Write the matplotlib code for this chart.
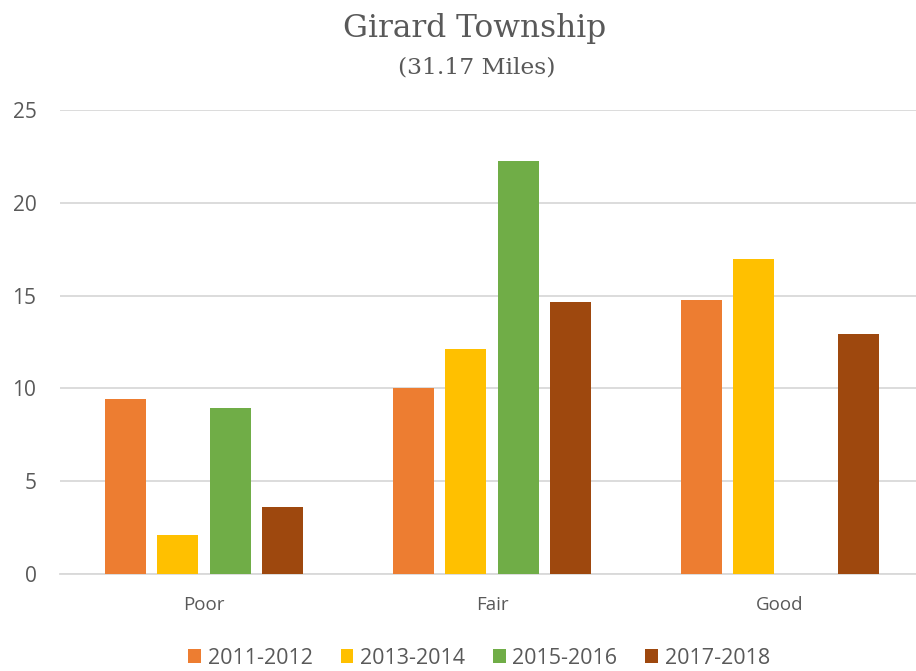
import numpy as np
import matplotlib.pyplot as plt

# data
categories = ['Poor', 'Fair', 'Good']
series_names = ['2011-2012', '2013-2014', '2015-2016', '2017-2018']
v_2011 = [9.45, 10.0, 14.75]
v_2013 = [2.1, 12.1, 16.95]
v_2015 = [8.95, 22.25, 0.0]
v_2017 = [3.6, 14.65, 12.95]
colors = ['#ED7D31', '#FFC000', '#70AD47', '#9E480E']

txt = '#595959'
plt.rcParams['font.family'] = ['Open Sans', 'DejaVu Sans']

fig = plt.figure(figsize=(9.16, 6.71), dpi=100)
ax = fig.add_axes([60 / 916, 97 / 671, 864 / 916, 464 / 671])

x = np.arange(len(categories))
width = 0.143
step = 0.182
for i, (vals, name) in enumerate(zip([v_2011, v_2013, v_2015, v_2017], series_names)):
    ax.bar(x + (i - 1.5) * step, vals, width, color=colors[i], label=name, zorder=3)

ax.set_xlim(-0.5, 2.5)
ax.set_ylim(0, 25)
ax.set_yticks([0, 5, 10, 15, 20, 25])
ax.set_xticks(x)
ax.set_xticklabels(categories)
ax.yaxis.grid(True, color='#D9D9D9', linewidth=1.3, zorder=0)
for s in ['top', 'right', 'left']:
    ax.spines[s].set_visible(False)
ax.spines['bottom'].set_color('#D9D9D9')
ax.spines['bottom'].set_linewidth(1.3)
ax.tick_params(axis='both', length=0, colors=txt)
ax.tick_params(axis='x', labelsize=13.5, pad=16)
ax.tick_params(axis='y', labelsize=15, pad=17)

serif = ['DejaVu Serif']
fig.text(0.518, 0.958, 'Girard Township', ha='center', va='center',
         fontsize=22.5, color=txt, family=serif)
fig.text(0.520, 0.900, '(31.17 Miles)', ha='center', va='center',
         fontsize=16.8, color=txt, family=serif)

fig.legend(loc='center', bbox_to_anchor=(0.523, 0.019), ncol=4, frameon=False,
           fontsize=15.5, labelcolor=txt, handlelength=0.6, handleheight=0.6,
           handletextpad=0.3, columnspacing=1.3)

plt.savefig('out.png', dpi=100)
